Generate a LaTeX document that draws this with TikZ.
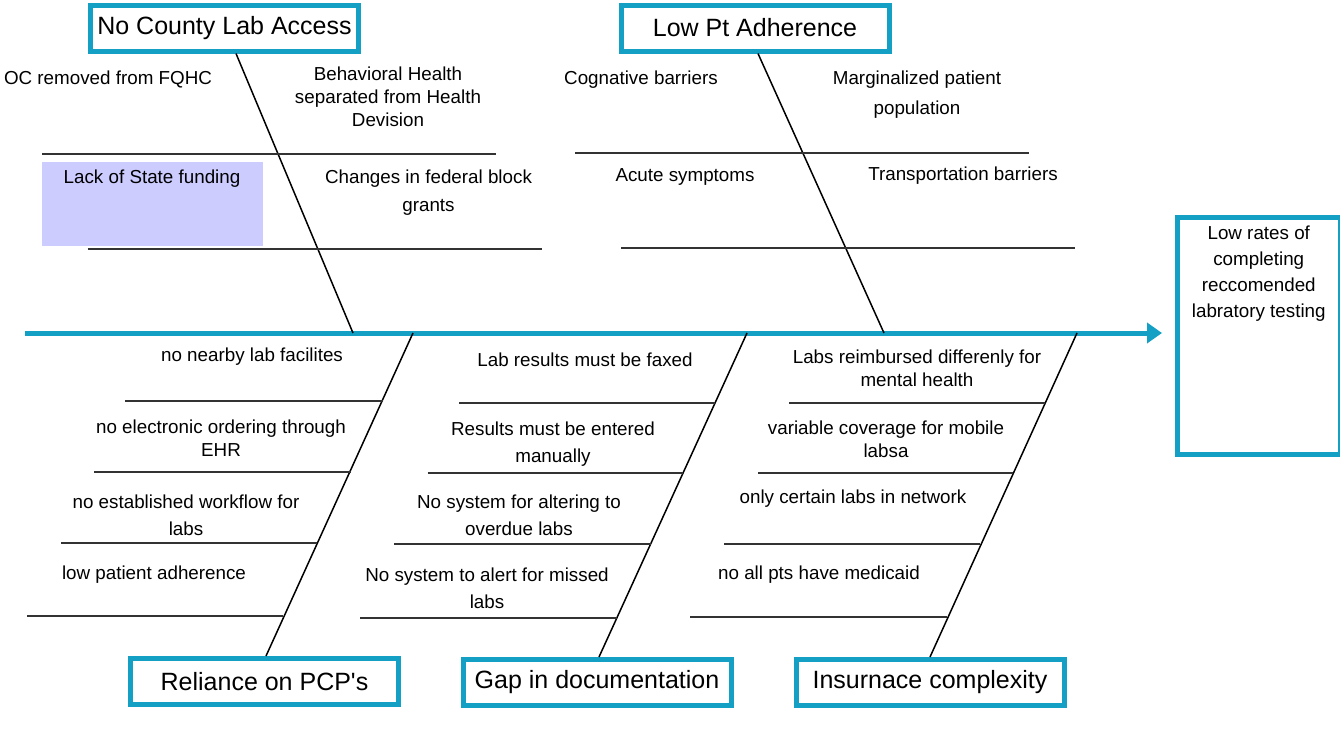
\documentclass[tikz,border=0pt]{standalone}
\usepackage{fontspec}
\setmainfont{Liberation Sans}
\usetikzlibrary{arrows.meta,positioning}
\definecolor{fishblue}{RGB}{20,160,196}
\definecolor{lavender}{RGB}{204,204,255}

\begin{document}
\begin{tikzpicture}[x=0.5pt, y=-0.5pt,
		cause/.style={draw=fishblue, line width=2.5pt, inner sep=0pt, minimum width=134pt, minimum height=23pt, font=\fontsize{12.5}{15}\selectfont},
		txt/.style={align=center, inner sep=0pt, yshift=-1pt, font=\fontsize{9.4}{11.5}\selectfont},
		rib/.style={draw=black!80, line width=1pt},
		bone/.style={line width=0.75pt},
		spine/.style={draw=fishblue, line width=2.5pt, -{Triangle[length=7.5pt,width=10pt]}}]
		\useasboundingbox (0,0) rectangle (1340,729);

		% highlighted cause
		\fill[lavender] (42,162) rectangle (263,246);

		% effect
		\node[draw=fishblue, line width=2.5pt, inner sep=0pt, minimum width=81.25pt, minimum height=118.5pt] (6) at (1258.75,336) {};
		\node[txt, font=\fontsize{9.4}{13}\selectfont, below=4.25pt of 6.north] (6a) {Low rates of\\completing\\reccomended\\labratory testing};

		% main categories
		\node[cause] (1) at (224.5,28) {No County Lab Access};
		\node[cause] (2) at (755,28) {Low Pt Adherence};
		\node[cause] (3) at (264.5,681.5) {Reliance on PCP\textquotesingle s};
		\node[cause] (4) at (597,682.5) {Gap in documentation};
		\node[cause] (5) at (930,682.5) {Insurnace complexity};

		% spine
		\coordinate (tail) at (25,333);
		\coordinate (head) at (1162,333);
		\coordinate (s1) at (353,333);
		\coordinate (s2) at (884,333);
		\coordinate (s3) at (413,333);
		\coordinate (s4) at (747,333);
		\coordinate (s5) at (1077,333);
		\draw[spine] (tail) -- (head);

		\draw[bone] ([xshift=5.75pt]1.south) -- (s1);
		\draw[bone] ([xshift=1.5pt]2.south) -- (s2);
		\draw[bone] ([xshift=0.75pt]3.north) -- (s3);
		\draw[bone] ([xshift=1pt]4.north) -- (s4);
		\draw[bone] (5.north) -- (s5);

		% ribs
		\draw[rib] (42,154) -- (496,154);
		\draw[rib] (87.5,249) -- (542,249);
		\draw[rib] (575,153) -- (1029,153);
		\draw[rib] (621,248) -- (1075,248);

		\draw[rib] (125,401) -- (383,401);
		\draw[rib] (94,472) -- (351,472);
		\draw[rib] (61,543) -- (317,543);
		\draw[rib] (27,616) -- (283,616);

		\draw[rib] (459,403) -- (715,403);
		\draw[rib] (427.5,473) -- (683,473);
		\draw[rib] (394,544) -- (651,544);
		\draw[rib] (360,618) -- (617,618);

		\draw[rib] (789,403) -- (1045,403);
		\draw[rib] (758,473) -- (1013,473);
		\draw[rib] (724,544) -- (980,544);
		\draw[rib] (690,617) -- (947,617);

		% sub causes
		\node[txt] (1a) at (108,77) {OC removed from FQHC};
		\node[txt] (1b) at (388,95) {Behavioral Health\\separated from Health\\Devision};
		\node[txt] (1c) at (152,177) {Lack of State funding};
		\node[txt] (1d) at (428.5,191) {Changes in federal block\\[2.5pt]grants};

		\node[txt] (2a) at (641,78) {Cognative barriers};
		\node[txt] (2b) at (917,93) {Marginalized patient\\[3.5pt]population};
		\node[txt] (2c) at (685,175) {Acute symptoms};
		\node[txt] (2d) at (963,174) {Transportation barriers};

		\node[txt] (3a) at (252,355) {no nearby lab facilites};
		\node[txt] (3b) at (221,436.5) {no electronic ordering through\\EHR};
		\node[txt] (3c) at (186,513.5) {no established workflow for\\[2pt]labs};
		\node[txt] (3d) at (154,573) {low patient adherence};

		\node[txt] (4a) at (585,358) {Lab results must be faxed};
		\node[txt] (4b) at (553,442.5) {Results must be entered\\[2pt]manually};
		\node[txt] (4c) at (519,513.5) {No system for altering to\\[2pt]overdue labs};
		\node[txt] (4d) at (487,586.5) {No system to alert for missed\\[2pt]labs};

		\node[txt] (5a) at (917,366.5) {Labs reimbursed differenly for\\mental health};
		\node[txt] (5b) at (886,437) {variable coverage for mobile\\labsa};
		\node[txt] (5c) at (853,497) {only certain labs in network};
		\node[txt] (5d) at (819,573) {no all pts have medicaid};
	\end{tikzpicture}
\end{document}
